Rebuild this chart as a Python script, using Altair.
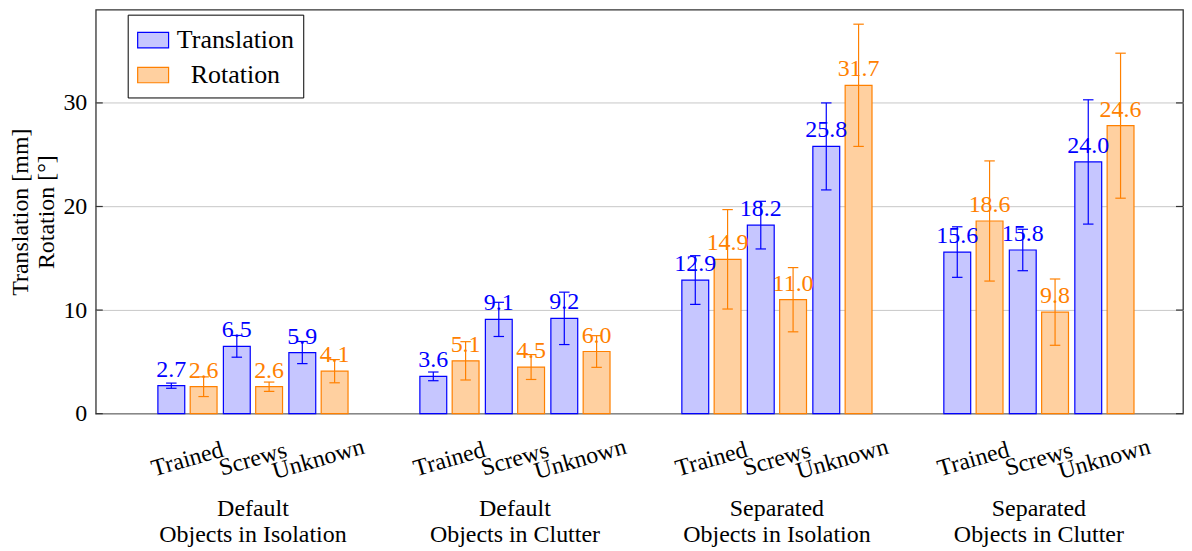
import altair as alt
import pandas as pd

# ---- data ----
group_line1 = ["Default", "Default", "Separated", "Separated"]
group_line2 = ["Objects in Isolation", "Objects in Clutter", "Objects in Isolation", "Objects in Clutter"]
categories = ["Trained", "Screws", "Unknown"]
series_names = ["Translation", "Rotation"]

translation = [2.7, 6.5, 5.9, 3.6, 9.1, 9.2, 12.9, 18.2, 25.8, 15.6, 15.8, 24.3]
translation_err = [0.25, 1.05, 1.07, 0.42, 1.65, 2.53, 2.35, 2.3, 4.2, 2.44, 2.0, 6.0]
translation_labels = ["2.7", "6.5", "5.9", "3.6", "9.1", "9.2", "12.9", "18.2", "25.8", "15.6", "15.8", "24.0"]

rotation = [2.6, 2.6, 4.1, 5.1, 4.5, 6.0, 14.9, 11.0, 31.7, 18.6, 9.8, 27.8]
rotation_err = [0.95, 0.45, 1.12, 1.85, 1.2, 1.53, 4.8, 3.1, 5.9, 5.8, 3.2, 7.0]
rotation_labels = ["2.6", "2.6", "4.1", "5.1", "4.5", "6.0", "14.9", "11.0", "31.7", "18.6", "9.8", "24.6"]

y_ticks = [0, 10, 20, 30]

# ---- layout constants ----
W, H = 1090, 405
FONT = "Liberation Serif"
FS = 24
fill_range = ["#c6c6ff", "#ffd0a0"]
stroke_range = ["#0000ff", "#ff8000"]
SLOTS = 4           # 3 categories + 1 empty slot per group
OFF = 0.2466        # bar centre offset from category centre (slot units)
HALF = 0.205        # half bar width
CAP = 0.08          # half cap width

rows = []
for g in range(len(group_line1)):
    for c in range(len(categories)):
        i = g * len(categories) + c
        slot = g * SLOTS + c
        for s, (vals, errs, labs) in enumerate(
            [(translation, translation_err, translation_labels),
             (rotation, rotation_err, rotation_labels)]):
            xc = slot + (-OFF if s == 0 else OFF)
            rows.append(dict(series=series_names[s], value=vals[i],
                             lo=vals[i] - errs[i], hi=vals[i] + errs[i],
                             label=labs[i], xc=xc, x0=xc - HALF, x1=xc + HALF,
                             c0=xc - CAP, c1=xc + CAP, zero=0))
df = pd.DataFrame(rows)

cat_df = pd.DataFrame([dict(slot=g * SLOTS + c, name=categories[c])
                       for g in range(len(group_line1)) for c in range(len(categories))])
grp_df = pd.DataFrame([dict(slot=g * SLOTS + 1, name=group_line1[g] + "\n" + group_line2[g])
                       for g in range(len(group_line1))])
tick_df = pd.DataFrame({"v": y_ticks})

xs = alt.Scale(domain=[-1.4, 15.2], nice=False, zero=False)
ys = alt.Scale(domain=[0, 39], nice=False)
color_scale = alt.Scale(domain=series_names, range=stroke_range)

legend = alt.Legend(title=None, orient="none", legendX=32, legendY=5,
                    symbolType="M-1,-0.5H1V0.5H-1Z", symbolSize=961,
                    symbolStrokeWidth=1.2, symbolOpacity=1,
                    labelFont=FONT, labelFontSize=26, labelColor="black",
                    labelAlign="center", labelOffset=66, rowPadding=5,
                    padding=9, strokeColor="black", fillColor="white")

bars = alt.Chart(df).mark_rect(strokeWidth=1.2).encode(
    x=alt.X("x0:Q", scale=xs, axis=None),
    x2="x1:Q",
    y=alt.Y("value:Q", scale=ys, axis=alt.Axis(
        values=y_ticks, title=["Translation [mm]", "Rotation [°]"],
        grid=True, gridColor="#c8c8c8", ticks=False, domain=False,
        labelFont=FONT, labelFontSize=FS, labelColor="black", labelPadding=9,
        titleFont=FONT, titleFontSize=FS, titleFontWeight="normal",
        titleColor="black", titlePadding=4)),
    y2="zero:Q",
    fill=alt.Fill("series:N", scale=alt.Scale(domain=series_names, range=fill_range),
                  sort=series_names, legend=legend),
    stroke=alt.Stroke("series:N", scale=alt.Scale(domain=series_names, range=stroke_range),
                      sort=series_names, legend=legend),
)

err = alt.Chart(df).mark_rule(strokeWidth=1.2).encode(
    x=alt.X("xc:Q", scale=xs), y=alt.Y("lo:Q", scale=ys), y2="hi:Q",
    color=alt.Color("series:N", scale=color_scale, legend=None))
cap_lo = alt.Chart(df).mark_rule(strokeWidth=1.2).encode(
    x=alt.X("c0:Q", scale=xs), x2="c1:Q", y=alt.Y("lo:Q", scale=ys),
    color=alt.Color("series:N", scale=color_scale, legend=None))
cap_hi = alt.Chart(df).mark_rule(strokeWidth=1.2).encode(
    x=alt.X("c0:Q", scale=xs), x2="c1:Q", y=alt.Y("hi:Q", scale=ys),
    color=alt.Color("series:N", scale=color_scale, legend=None))

labels = alt.Chart(df).mark_text(font=FONT, fontSize=FS, baseline="alphabetic", dy=-9).encode(
    x=alt.X("xc:Q", scale=xs), y=alt.Y("value:Q", scale=ys), text="label:N",
    color=alt.Color("series:N", scale=color_scale, legend=None))

cat_text = alt.Chart(cat_df).mark_text(font=FONT, fontSize=FS, angle=344,
                                       align="center", baseline="middle", color="black").encode(
    x=alt.X("slot:Q", scale=xs), y=alt.value(H + 46), text="name:N")

grp_text = alt.Chart(grp_df).mark_text(font=FONT, fontSize=FS, align="center",
                                       baseline="alphabetic", lineBreak="\n",
                                       lineHeight=26, color="black").encode(
    x=alt.X("slot:Q", scale=xs), y=alt.value(H + 103), text="name:N")

tick_l = alt.Chart(tick_df).mark_rule(color="#333333", strokeWidth=1.2).encode(
    y=alt.Y("v:Q", scale=ys), x=alt.value(0), x2=alt.value(7))
tick_r = alt.Chart(tick_df).mark_rule(color="#333333", strokeWidth=1.2).encode(
    y=alt.Y("v:Q", scale=ys), x=alt.value(W - 7), x2=alt.value(W))

chart = alt.layer(bars, err, cap_lo, cap_hi, labels, cat_text, grp_text, tick_l, tick_r).properties(
    width=W, height=H, padding={"left": 1, "top": 1, "right": 0, "bottom": 0}
).configure_view(stroke="#333333", strokeWidth=1.3)

chart.save("out.html", embed_options={"renderer": "svg", "actions": False})
